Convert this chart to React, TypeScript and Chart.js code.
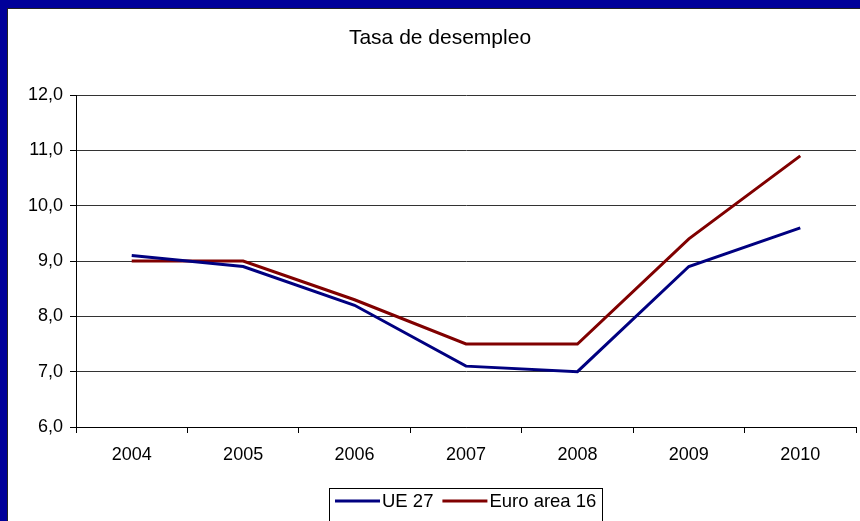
import React, { useEffect, useRef } from "react";
import { Chart, registerables } from "chart.js";

Chart.register(...registerables);

const years = ["2004", "2005", "2006", "2007", "2008", "2009", "2010"];
const ue27 = [9.1, 8.9, 8.2, 7.1, 7.0, 8.9, 9.6];
const euro16 = [9.0, 9.0, 8.3, 7.5, 7.5, 9.4, 10.9];
const seriesNames = ["UE 27", "Euro area 16"];
const seriesColors = ["#000080", "#800000"];
const titleText = "Tasa de desempleo";
const yMin = 6;
const yMax = 12;
const yStep = 1;

const FONT = "'Liberation Sans', Arial, Helvetica, sans-serif";

export default function App() {
  const ref = useRef<HTMLCanvasElement>(null);

  useEffect(() => {
    const canvas = ref.current!;
    const overlay = {
      id: "overlay",
      afterDraw(chart: any) {
        const ctx = chart.ctx as CanvasRenderingContext2D;
        const ca = chart.chartArea;
        ctx.save();
        // title
        ctx.fillStyle = "#000";
        ctx.font = `21px ${FONT}`;
        ctx.textAlign = "center";
        ctx.textBaseline = "alphabetic";
        ctx.fillText(titleText, chart.width / 2 + 6, 35);

        // legend
        ctx.font = `18.5px ${FONT}`;
        ctx.textAlign = "left";
        const items = chart.data.datasets.map((ds: any) => ({
          label: ds.label as string,
          color: ds.borderColor as string,
        }));
        const lineLen = 45;
        const gap = 2;
        const itemGap = 9;
        const pad = 6;
        let total = pad * 2;
        items.forEach((it: any, i: number) => {
          total += lineLen + gap + ctx.measureText(it.label).width + (i < items.length - 1 ? itemGap : 0);
        });
        const cx = (ca.left + ca.right) / 2;
        let x = Math.round(cx - total / 2);
        const top = 479;
        ctx.strokeStyle = "#000";
        ctx.lineWidth = 1;
        ctx.strokeRect(x + 0.5, top + 0.5, Math.round(total), 60);
        x += pad;
        const lineY = 492;
        items.forEach((it: any) => {
          ctx.strokeStyle = it.color;
          ctx.lineWidth = 3;
          ctx.beginPath();
          ctx.moveTo(x, lineY);
          ctx.lineTo(x + lineLen, lineY);
          ctx.stroke();
          x += lineLen + gap;
          ctx.fillStyle = "#000";
          ctx.fillText(it.label, x, 498);
          x += ctx.measureText(it.label).width + itemGap;
        });
        ctx.restore();
      },
    };

    const chart = new Chart(canvas, {
      type: "line",
      data: {
        labels: years,
        datasets: [
          {
            label: seriesNames[0],
            data: ue27,
            borderColor: seriesColors[0],
            backgroundColor: seriesColors[0],
            borderWidth: 3,
            pointRadius: 0,
            tension: 0,
            fill: false,
          },
          {
            label: seriesNames[1],
            data: euro16,
            borderColor: seriesColors[1],
            backgroundColor: seriesColors[1],
            borderWidth: 3,
            pointRadius: 0,
            tension: 0,
            fill: false,
          },
        ],
      },
      options: {
        responsive: false,
        animation: false,
        devicePixelRatio: 1,
        layout: { padding: { left: 0, top: 86, right: 4, bottom: 54 } },
        plugins: {
          legend: { display: false },
          title: { display: false },
          tooltip: { enabled: false },
        },
        scales: {
          x: {
            type: "category",
            offset: true,
            grid: {
              offset: true,
              drawOnChartArea: true,
              color: (c: any) => (c.index === years.length ? "#808080" : "rgba(0,0,0,0)"),
              tickColor: "#000",
              tickLength: 6,
            },
            border: { color: "#000", width: 1 },
            ticks: {
              color: "#000",
              font: { family: FONT, size: 18 },
              padding: 11,
              maxRotation: 0,
            },
            afterFit: (s: any) => {
              s.height = 40;
            },
          },
          y: {
            min: yMin,
            max: yMax,
            grid: {
              color: "#333",
              tickColor: "#000",
              tickLength: 6,
            },
            border: { color: "#000", width: 1 },
            ticks: {
              stepSize: yStep,
              color: "#000",
              font: { family: FONT, size: 18 },
              padding: 7,
              callback: (v: any) => Number(v).toFixed(1).replace(".", ","),
            },
            afterFit: (s: any) => {
              s.width = 68;
            },
          },
        },
      },
      plugins: [overlay],
    });
    return () => chart.destroy();
  }, []);

  return (
    <div
      style={{
        position: "fixed",
        left: 0,
        top: 0,
        width: 860,
        height: 521,
        background: "#000099",
        overflow: "hidden",
      }}
    >
      <div
        style={{
          position: "absolute",
          left: 7,
          top: 8,
          width: 853,
          height: 520,
          background: "#fff",
          borderLeft: "1px solid #222",
          borderTop: "1px solid #222",
        }}
      >
        <canvas ref={ref} width={852} height={512} style={{ display: "block" }} />
      </div>
    </div>
  );
}
